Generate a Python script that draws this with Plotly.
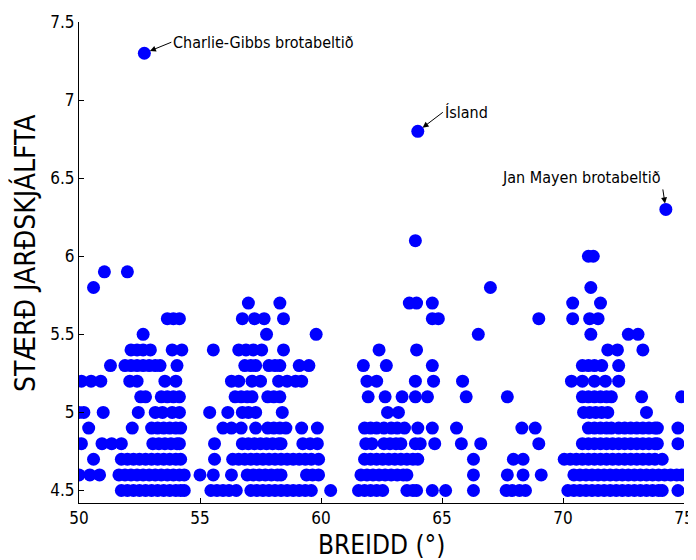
import plotly.graph_objects as go

# Latitudes (degrees N) of earthquakes per magnitude level
lat_45 = [51.75, 52.0, 52.25, 52.5, 52.75, 53.0, 53.25, 53.5, 53.75, 54.0, 54.2, 54.35,
          55.45, 55.7, 55.95, 56.2, 56.5,
          57.1, 57.35, 57.6, 57.85, 58.1, 58.35, 58.6, 58.85, 59.1, 59.35, 59.6, 60.4,
          61.55, 61.8, 62.05, 62.3, 62.55, 63.55, 63.8, 63.95, 64.6, 65.15, 66.3,
          67.65, 67.9, 68.2, 68.45,
          70.2, 70.45, 70.7, 70.95, 71.2, 71.45, 71.7, 71.95, 72.2, 72.45, 72.7, 72.95,
          73.2, 73.45, 73.7, 73.95, 74.1, 74.75]
lat_46 = [50.0, 50.45, 50.85,
          51.65, 51.9, 52.15, 52.4, 52.65, 52.9, 53.15, 53.4, 53.65, 53.9, 54.15, 54.35,
          55.0, 55.55, 56.3,
          56.95, 57.2, 57.45, 57.7, 57.95, 58.2, 58.35, 59.4, 59.65, 59.9,
          61.65, 61.9, 62.15, 62.4, 62.65, 62.9, 63.15, 63.4, 63.55, 66.3,
          67.7, 68.35, 69.1,
          70.45, 70.7, 70.95, 71.2, 71.45, 71.7, 71.95, 72.2, 72.45, 72.7, 72.95, 73.2,
          73.45, 73.7, 73.95, 74.2, 74.45, 74.7, 74.9]
lat_47 = [50.6,
          51.75, 52.0, 52.25, 52.5, 52.75, 53.0, 53.25, 53.5, 53.75, 54.0, 54.2,
          55.6,
          56.35, 56.6, 56.85, 57.1, 57.35, 57.6, 57.85, 58.1, 58.35, 58.6, 58.85, 59.1,
          59.35, 59.6, 59.9,
          61.8, 62.05, 62.3, 62.55, 62.8, 63.05, 63.3, 63.55, 63.8, 64.0, 66.3,
          67.95, 68.35,
          70.05, 70.3, 70.55, 70.8, 71.05, 71.3, 71.55, 71.8, 72.05, 72.3, 72.55, 72.8,
          73.05, 73.3, 73.55, 73.8, 74.1]
lat_48 = [50.1, 50.95, 51.35, 51.75,
          53.05, 53.3, 53.55, 53.8, 54.05, 54.15,
          55.6,
          56.75, 57.0, 57.25, 57.5, 57.75, 58.0, 58.25, 58.35, 59.25, 59.55, 59.85,
          61.85, 62.1, 62.6, 62.85, 63.1, 63.3, 63.9, 64.1, 64.7, 65.8, 66.6,
          69.0,
          70.8, 71.05, 71.3, 71.55, 71.8, 72.05, 72.3, 72.55, 72.8, 73.05, 73.3, 73.55,
          73.8, 73.9, 74.75]
lat_49 = [50.4, 52.2,
          53.0, 53.25, 53.5, 53.75, 54.0, 54.2,
          55.95, 56.3, 56.7, 57.3, 57.8, 58.05, 58.3, 58.55, 59.2, 59.85,
          61.8, 62.05, 62.3, 62.6, 62.9, 63.15, 63.45, 64.0, 64.6, 65.6,
          68.3, 68.85,
          71.05, 71.3, 71.55, 71.8, 72.0, 72.3, 72.55, 72.8, 73.05, 73.3, 73.55, 73.8,
          73.9, 74.75]
lat_50 = [50.0, 50.2, 51.0, 52.45, 53.15, 53.45, 53.85, 54.15,
          55.4, 56.15, 56.75, 57.0, 57.3, 58.4,
          62.75, 63.2,
          70.85, 71.1, 71.35, 71.6, 71.85, 73.45]
lat_51 = [52.55, 52.75, 53.4, 53.65, 53.9, 54.15,
          56.45, 56.7, 56.95, 57.15, 57.8, 58.05, 58.3,
          61.95, 62.65, 63.35, 63.9, 64.4, 66.0,
          67.7, 70.8, 71.05, 71.3, 71.55, 71.8, 72.0, 73.25, 74.9]
lat_52 = [50.1, 50.5, 50.9, 52.1, 52.4, 53.55, 54.0,
          56.3, 56.6, 57.15, 57.5, 58.25, 58.6, 58.95, 59.2,
          61.9, 62.3, 63.9, 64.65, 65.85,
          70.35, 70.8, 71.3, 71.75, 72.3]
lat_53 = [51.3, 51.9, 52.15, 52.4, 52.65, 52.9, 53.15, 53.35, 54.05,
          56.85, 57.1, 57.3, 57.85, 58.1, 58.3, 59.1, 59.5,
          61.75, 62.7, 64.6,
          70.8, 71.05, 71.3, 71.6, 72.3]
lat_54 = [52.15, 52.4, 52.65, 52.95, 53.85, 54.25,
          55.55, 56.6, 56.9, 57.2, 57.55, 58.45,
          62.4, 63.95,
          71.85, 72.25, 73.3]
lat_55 = [52.65, 57.75, 59.8, 66.5, 71.15, 72.7, 73.1]
lat_56 = [53.65, 53.9, 54.15, 56.75, 57.25, 57.65, 58.45,
          64.6, 64.85, 69.0, 70.4, 71.1, 71.45]
lat_57 = [57.0, 58.3, 63.65, 63.95, 64.6, 70.4, 71.55]
lat_58 = [50.6, 67.0, 71.15]
lat_59 = [51.05, 52.0]
lat_60 = [71.05, 71.25]
lat_61 = [63.9]
lat_big = [52.7, 64.0, 74.25]
mag_big = [7.3, 6.8, 6.3]

levels = [4.5, 4.6, 4.7, 4.8, 4.9, 5.0, 5.1, 5.2, 5.3, 5.4, 5.5, 5.6, 5.7, 5.8, 5.9, 6.0, 6.1]
rows = [lat_45, lat_46, lat_47, lat_48, lat_49, lat_50, lat_51, lat_52, lat_53, lat_54,
        lat_55, lat_56, lat_57, lat_58, lat_59, lat_60, lat_61]

# Text
labels = ["Charlie-Gibbs brotabeltið", "Ísland", "Jan Mayen brotabeltið"]
x_title = "BREIDD (°)"
y_title = "STÆRÐ JARÐSKJÁLFTA"

xs, ys = [], []
for m, row in zip(levels, rows):
    xs.extend(row)
    ys.extend([m] * len(row))
xs.extend(lat_big)
ys.extend(mag_big)

FONT = "Liberation Sans Narrow, Arial Narrow, DejaVu Sans Condensed, Arial, sans-serif"

fig = go.Figure()
fig.add_trace(go.Scatter(
    x=xs, y=ys, mode="markers",
    marker=dict(color="#0000FF", size=13, line=dict(width=0)),
    showlegend=False, hoverinfo="x+y",
))

ann_specs = [
    dict(ax=27, ay=-11, xanchor="left", yanchor="middle"),
    dict(ax=25, ay=-19, xanchor="left", yanchor="middle"),
    dict(ax=-3, ay=-20, xanchor="right", yanchor="bottom"),
]
for x0, y0, txt, spec in zip(lat_big, mag_big, labels, ann_specs):
    fig.add_annotation(
        x=x0, y=y0, text=txt, showarrow=True, arrowhead=2, arrowsize=1.2,
        arrowwidth=1, arrowcolor="black", standoff=6,
        font=dict(family=FONT, size=16, color="black"), **spec)

# Axis titles placed as annotations in paper coordinates
fig.add_annotation(x=0.5, y=0, xref="paper", yref="paper", yshift=-42,
                   text=x_title, showarrow=False, xanchor="center", yanchor="middle",
                   font=dict(family=FONT, size=26, color="black"))
fig.add_annotation(x=0, y=0.52, xref="paper", yref="paper", xshift=-54,
                   text=y_title, showarrow=False, textangle=-90,
                   xanchor="center", yanchor="middle",
                   font=dict(family=FONT, size=28, color="black"))

# The page body has an 8px margin, so the figure is 8px smaller than the window
fig.update_layout(
    width=688, height=552,
    margin=dict(l=71, r=12, t=14, b=57),
    paper_bgcolor="white", plot_bgcolor="white",
    font=dict(family=FONT, size=16, color="black"),
    xaxis=dict(
        range=[50, 75], tickvals=[50, 55, 60, 65, 70, 75],
        ticks="inside", ticklen=5, tickcolor="black",
        showline=True, linecolor="black", linewidth=1,
        showgrid=False, zeroline=False, automargin=False,
        tickfont=dict(size=17),
    ),
    yaxis=dict(
        range=[4.42, 7.5], tickvals=[4.5, 5, 5.5, 6, 6.5, 7, 7.5],
        ticktext=["4.5", "5", "5.5", "6", "6.5", "7", "7.5"],
        ticks="inside", ticklen=5, tickcolor="black",
        showline=True, linecolor="black", linewidth=1,
        showgrid=False, zeroline=False, automargin=False,
        tickfont=dict(size=17),
    ),
)

fig.write_html("out.html")
